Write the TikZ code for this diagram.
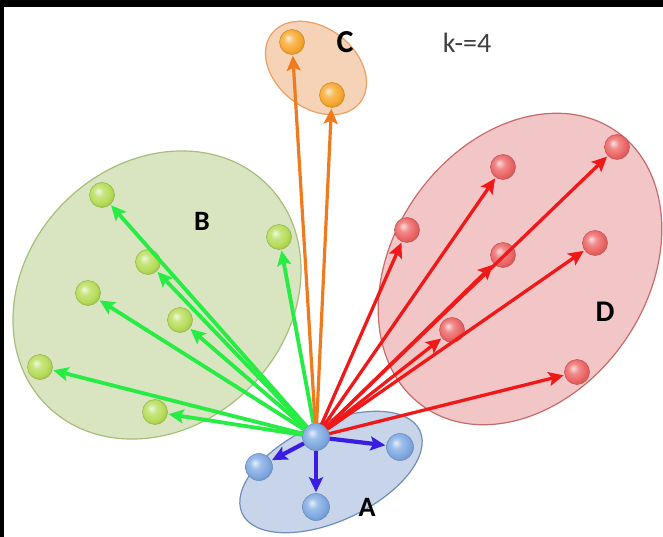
\documentclass[tikz,border=0pt]{standalone}
\usepackage{fontspec}
\setmainfont{Carlito}
\usetikzlibrary{arrows.meta,shapes.geometric}

\definecolor{fillA}{HTML}{C7D4EA}
\definecolor{lineA}{HTML}{6F8FB8}
\definecolor{fillB}{HTML}{D8E5C0}
\definecolor{lineB}{HTML}{A6BF7A}
\definecolor{fillC}{HTML}{F6D3B6}
\definecolor{lineC}{HTML}{EBA066}
\definecolor{fillD}{HTML}{F2C6C6}
\definecolor{lineD}{HTML}{C86A6A}
\definecolor{ballA}{HTML}{7FA9E2}
\definecolor{ballB}{HTML}{B6DC58}
\definecolor{ballC}{HTML}{F7A72E}
\definecolor{ballD}{HTML}{EC6464}
\definecolor{arrB}{HTML}{26EC44}
\definecolor{arrC}{HTML}{F07A1E}
\definecolor{arrD}{HTML}{F01818}
\definecolor{arrA}{HTML}{3A1EE0}

% weiche Kugel-Schattierung je Farbe
\newcommand\softsphere[2]{%
  \pgfdeclareradialshading{#1}{\pgfpoint{-8bp}{8bp}}{%
    color(0bp)=(#2!20!white); color(10bp)=(#2!75!white); color(22bp)=(#2);
    color(32bp)=(#2!85!black); color(50bp)=(#2!75!black)}}
\softsphere{sphshA}{ballA}
\softsphere{sphshB}{ballB}
\softsphere{sphshC}{ballC}
\softsphere{sphshD}{ballD}

\begin{document}
\begin{tikzpicture}[
    x=1pt, y=-1pt,
    font=\fontsize{28}{30}\selectfont\bfseries,
    cluster/.style={
        ellipse,
        line width=1.2pt,
        inner sep=0pt
    },
    sphere/.style={circle, minimum size=25pt, inner sep=0pt, line width=0.5pt},
    sphereA/.style={sphere, minimum size=27pt, shading=sphshA, draw=ballA!80!black},
    sphereB/.style={sphere, shading=sphshB, draw=ballB!80!black},
    sphereC/.style={sphere, shading=sphshC, draw=ballC!80!black},
    sphereD/.style={sphere, shading=sphshD, draw=ballD!80!black},
    arrow/.style={-{Stealth[length=15pt,width=14pt,inset=3pt]}, line width=3.8pt, shorten >=1pt}
]

% ============================================================
% RAHMEN
% ============================================================
\useasboundingbox (0,0) rectangle (663,537);
\fill[white] (0,0) rectangle (663,537);
\fill[black] (0,0) rectangle (663,7);
\fill[black] (0,0) rectangle (4,537);

% ============================================================
% CLUSTER
% ============================================================
\node[cluster, fill=fillB, draw=lineB, minimum width=312pt, minimum height=262pt, rotate=45] (clB) at (157,295) {};
\node[cluster, fill=fillD, draw=lineD, minimum width=336pt, minimum height=254pt, rotate=55] (clD) at (520,269) {};
\node[cluster, fill=fillC, draw=lineC, minimum width=112pt, minimum height=80pt, rotate=-38] (clC) at (316,68) {};
\node[cluster, fill=fillA, draw=lineA, minimum width=196pt, minimum height=98pt, rotate=25] (clA) at (331,472) {};

% ============================================================
% PUNKTE
% ============================================================
\node[sphereA] (a0) at (316,437) {};
\node[sphereA] (a1) at (259,467) {};
\node[sphereA] (a2) at (316,507) {};
\node[sphereA] (a3) at (400,447) {};

\node[sphereB] (b1) at (102,195) {};
\node[sphereB] (b2) at (279,237) {};
\node[sphereB] (b3) at (148,262) {};
\node[sphereB] (b4) at (88,293) {};
\node[sphereB] (b5) at (180,320) {};
\node[sphereB] (b6) at (40,367) {};
\node[sphereB] (b7) at (155,412) {};

\node[sphereC] (c1) at (292,42) {};
\node[sphereC] (c2) at (332,95) {};

\node[sphereD] (d1) at (617,147) {};
\node[sphereD] (d2) at (503,167) {};
\node[sphereD] (d3) at (407,230) {};
\node[sphereD] (d4) at (595,243) {};
\node[sphereD] (d5) at (503,255) {};
\node[sphereD] (d6) at (452,330) {};
\node[sphereD] (d7) at (577,372) {};

% ============================================================
% PFEILE
% ============================================================
\draw[arrow, arrB] (a0) -- (b1);
\draw[arrow, arrB] (a0) -- (b2);
\draw[arrow, arrB] (a0) -- (b3);
\draw[arrow, arrB] (a0) -- (b4);
\draw[arrow, arrB] (a0) -- (b5);
\draw[arrow, arrB] (a0) -- (b6);
\draw[arrow, arrB] (a0) -- (b7);

\draw[arrow, arrC, line width=3.2pt] (a0) -- (c1);
\draw[arrow, arrC, line width=3.2pt] (a0) -- (c2);

\draw[arrow, arrD, line width=3.3pt] (a0) -- (d1);
\draw[arrow, arrD, line width=3.3pt] (a0) -- (d2);
\draw[arrow, arrD, line width=3.3pt] (a0) -- (d3);
\draw[arrow, arrD, line width=3.3pt] (a0) -- (d4);
\draw[arrow, arrD, line width=3.3pt] (a0) -- (d5);
\draw[arrow, arrD, line width=3.3pt] (a0) -- (d6);
\draw[arrow, arrD, line width=3.3pt] (a0) -- (d7);

\draw[arrow, arrA, line width=4.2pt] (a0) -- (a1);
\draw[arrow, arrA, line width=4.2pt] (a0) -- (a2);
\draw[arrow, arrA, line width=4.2pt] (a0) -- (a3);

% ============================================================
% BESCHRIFTUNG
% ============================================================
\node (labA) at (367,507) {A};
\node (labB) at (202,221) {B};
\node[font=\fontsize{32}{34}\selectfont\bfseries] (labC) at (345,42) {C};
\node[font=\fontsize{30}{32}\selectfont\bfseries] (labD) at (605,312) {D};
\node[font=\fontsize{28}{30}\selectfont, text=black!75] (kval) at (467,43) {k-=4};

\end{tikzpicture}
\end{document}
